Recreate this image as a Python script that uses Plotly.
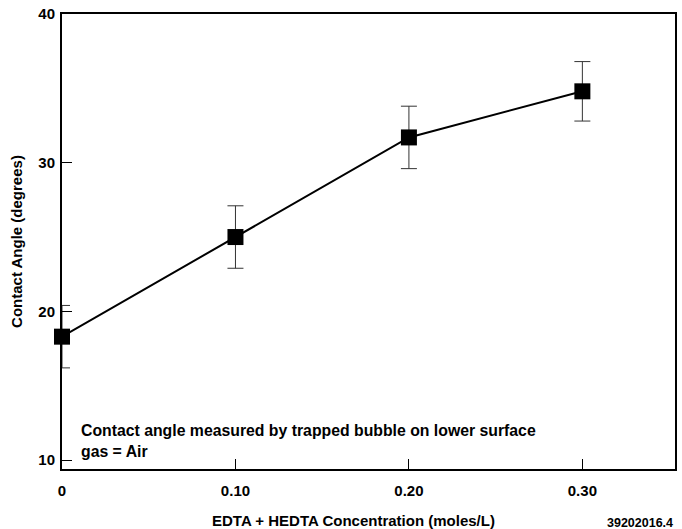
import plotly.graph_objects as go

conc = [0.0, 0.10, 0.20, 0.30]
angle = [18.3, 25.0, 31.7, 34.8]
err = [2.1, 2.1, 2.1, 2.0]
x_tickvals = [0, 0.10, 0.20, 0.30]
x_ticktext = ["0", "0.10", "0.20", "0.30"]
y_tickvals = [10, 20, 30, 40]
y_ticktext = ["10", "20", "30", "40"]

font_family = "Liberation Sans, Arial, sans-serif"

fig = go.Figure()
fig.add_trace(go.Scatter(
    x=conc, y=angle, mode="lines+markers",
    line=dict(color="black", width=2),
    marker=dict(symbol="square", size=16, color="black"),
    error_y=dict(type="data", array=err, visible=True, color="#333333", thickness=1, width=8),
    cliponaxis=False,
    showlegend=False,
))

fig.update_layout(
    width=682, height=529,
    margin=dict(l=62, r=5, t=13, b=60),
    paper_bgcolor="white", plot_bgcolor="white",
    font=dict(family=font_family, size=15, color="black"),
    xaxis=dict(
        range=[0, 0.3534], tickvals=x_tickvals, ticktext=x_ticktext,
        ticks="inside", ticklen=10, tickwidth=1, tickcolor="black",
        showline=True, linecolor="black", linewidth=2, mirror=True,
        showgrid=False, zeroline=False, ticklabelstandoff=7,
        tickfont=dict(size=15, family=font_family, weight="bold"),
    ),
    yaxis=dict(
        range=[9.4, 40], tickvals=y_tickvals, ticktext=y_ticktext,
        ticks="inside", ticklen=10, tickwidth=1, tickcolor="black",
        showline=True, linecolor="black", linewidth=2, mirror=True,
        showgrid=False, zeroline=False, ticklabelstandoff=2,
        tickfont=dict(size=15, family=font_family, weight="bold"),
        title=dict(text="Contact Angle (degrees)",
                   font=dict(size=15, family=font_family, weight="bold"), standoff=12),
    ),
    annotations=[
        dict(text="EDTA + HEDTA Concentration (moles/L)",
             xref="paper", yref="paper", x=0.475, y=-0.114,
             xanchor="center", yanchor="middle", showarrow=False,
             font=dict(size=15, family=font_family, weight="bold")),
        dict(text="Contact angle measured by trapped bubble on lower surface<br>gas = Air",
             xref="paper", yref="paper", x=0.027, y=0.107, xanchor="left", yanchor="top",
             align="left", showarrow=False,
             font=dict(size=15.8, family=font_family, weight="bold")),
        dict(text="39202016.4", xref="paper", yref="paper", x=1.0, y=-0.118,
             xanchor="right", yanchor="middle", showarrow=False,
             font=dict(size=12.5, family=font_family, weight="bold")),
    ],
)

fig.write_html("out.html")
